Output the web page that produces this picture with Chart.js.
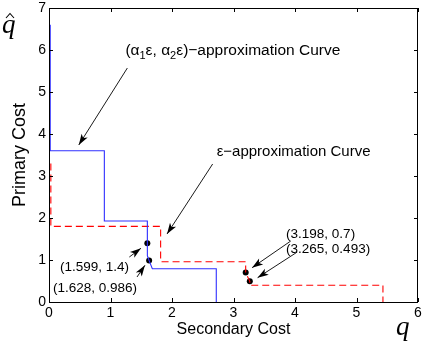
<!DOCTYPE html>
<html>
<head>
<meta charset="UTF-8">
<title>Primary vs Secondary Cost</title>
<script src="https://cdn.jsdelivr.net/npm/chart.js"></script>
<style>
body { margin: 0; background: #fff; }
#wrap { width: 422px; height: 343px; }
</style>
</head>
<body>
<div id="wrap"><canvas id="costChart"></canvas></div>
<script>
// (α1ε, α2ε)-approximation curve, blue solid
const alphaX = [0.02, 0.02, 0.9, 0.9, 1.599, 1.599, 1.6, 1.628, 1.68, 2.72, 2.72];
const alphaY = [6.6, 3.6, 3.6, 1.93, 1.93, 1.4, 1.1, 0.986, 0.79, 0.79, 0];
// ε-approximation curve, red dashed
const epsX = [0.03, 0.03, 1.815, 1.815, 3.198, 3.198, 3.265, 3.265, 5.43, 5.43];
const epsY = [3.3, 1.8, 1.8, 0.96, 0.96, 0.7, 0.493, 0.4, 0.4, 0];
// marked points and their labels
const markX = [1.599, 1.628, 3.198, 3.265];
const markY = [1.4, 0.986, 0.7, 0.493];
const markLabels = ['(1.599, 1.4)', '(1.628, 0.986)', '(3.198, 0.7)', '(3.265, 0.493)'];
const markLabelAt = [[0.177, 0.833], [0.065, 0.333], [3.855, 1.619], [3.855, 1.262]];
const markArrowFrom = [[1.306, 1.071], [1.431, 0.595], [3.931, 1.452], [4.037, 1.19]];
const markArrowTo = [[1.495, 1.279], [1.56, 0.874], [3.302, 0.817], [3.392, 0.579]];
// curve captions
const captionAt = [[1.242, 5.98], [2.726, 3.58]];
const captionArrowFrom = [[1.274, 5.571], [2.661, 3.286]];
const captionArrowTo = [[0.484, 3.738], [1.919, 1.619]];
const xTicks = [0, 1, 2, 3, 4, 5, 6];
const yTicks = [0, 1, 2, 3, 4, 5, 6, 7];

const pts = (xs, ys) => xs.map((x, i) => ({x: x, y: ys[i]}));
const SANS = '"Liberation Sans", Arial, sans-serif';

function arrow(ctx, x1, y1, x2, y2) {
  ctx.beginPath();
  ctx.moveTo(x1, y1);
  ctx.lineTo(x2, y2);
  ctx.stroke();
  const a = Math.atan2(y2 - y1, x2 - x1), L = 11, W = 3.6;
  ctx.beginPath();
  ctx.moveTo(x2, y2);
  ctx.lineTo(x2 - L * Math.cos(a) + W * Math.sin(a), y2 - L * Math.sin(a) - W * Math.cos(a));
  ctx.lineTo(x2 - L * 0.75 * Math.cos(a), y2 - L * 0.75 * Math.sin(a));
  ctx.lineTo(x2 - L * Math.cos(a) - W * Math.sin(a), y2 - L * Math.sin(a) + W * Math.cos(a));
  ctx.closePath();
  ctx.fill();
}

// draw text made of pieces, some of them subscripts
function richText(ctx, parts, x, y, size) {
  parts.forEach(p => {
    ctx.font = (p.sub ? Math.round(size * 0.72) : size) + 'px ' + SANS;
    ctx.fillText(p.t, x, p.sub ? y + 5 : y);
    x += ctx.measureText(p.t).width;
  });
}

const decorPlugin = {
  id: 'decor',
  afterDatasetsDraw(chart) {
    const ctx = chart.ctx, xs = chart.scales.x, ys = chart.scales.y;
    const a = chart.chartArea;
    const px = v => xs.getPixelForValue(v), py = v => ys.getPixelForValue(v);
    ctx.save();
    // box and inward ticks
    ctx.strokeStyle = '#000';
    ctx.lineWidth = 1;
    ctx.strokeRect(a.left + 0.5, a.top + 0.5, a.right - a.left - 1, a.bottom - a.top);
    ctx.beginPath();
    xTicks.forEach(v => {
      const x = Math.round(px(v)) + 0.5;
      ctx.moveTo(x, a.bottom); ctx.lineTo(x, a.bottom - 4);
      ctx.moveTo(x, a.top); ctx.lineTo(x, a.top + 4);
    });
    yTicks.forEach(v => {
      const y = Math.round(py(v)) + 0.5;
      ctx.moveTo(a.left, y); ctx.lineTo(a.left + 4, y);
      ctx.moveTo(a.right, y); ctx.lineTo(a.right - 4, y);
    });
    ctx.stroke();

    // arrows
    ctx.fillStyle = '#000';
    ctx.lineWidth = 0.9;
    captionArrowFrom.forEach((f, i) => {
      const t = captionArrowTo[i];
      arrow(ctx, px(f[0]), py(f[1]), px(t[0]), py(t[1]));
    });
    markArrowFrom.forEach((f, i) => {
      const t = markArrowTo[i];
      arrow(ctx, px(f[0]), py(f[1]), px(t[0]), py(t[1]));
    });

    // captions
    ctx.textBaseline = 'middle';
    ctx.textAlign = 'left';
    richText(ctx, [
      {t: '(α'}, {t: '1', sub: true}, {t: 'ε, α'}, {t: '2', sub: true},
      {t: 'ε)−approximation Curve'}
    ], px(captionAt[0][0]), py(captionAt[0][1]), 15.5);
    richText(ctx, [{t: 'ε−approximation Curve'}], px(captionAt[1][0]), py(captionAt[1][1]), 15);

    ctx.font = '13.5px ' + SANS;
    markLabels.forEach((s, i) => {
      ctx.fillText(s, px(markLabelAt[i][0]), py(markLabelAt[i][1]));
    });

    // q-hat symbols
    ctx.textBaseline = 'alphabetic';
    ctx.font = 'italic 27px "Liberation Serif", "DejaVu Serif", serif';
    ctx.fillText('q', 2, 33);
    ctx.fillText('q', 396, 335);
    ctx.lineWidth = 1.1;
    ctx.beginPath();
    ctx.moveTo(6, 18); ctx.lineTo(10, 13.5); ctx.lineTo(14, 18);
    ctx.stroke();
    ctx.restore();
  }
};

new Chart(document.getElementById('costChart'), {
  type: 'scatter',
  data: {
    datasets: [
      {
        data: pts(alphaX, alphaY), showLine: true, borderColor: '#3030ff',
        borderWidth: 1.1, pointRadius: 0, tension: 0
      },
      {
        data: pts(epsX, epsY), showLine: true, borderColor: '#ff0000',
        borderWidth: 1.1, borderDash: [7, 4], pointRadius: 0, tension: 0
      },
      {
        data: pts(markX, markY), showLine: false, pointRadius: 3,
        backgroundColor: '#000', borderColor: '#000', borderWidth: 0
      }
    ]
  },
  options: {
    responsive: true,
    maintainAspectRatio: false,
    animation: false,
    layout: { padding: { top: 8, right: 1, left: 0, bottom: 0 } },
    plugins: { legend: { display: false }, tooltip: { enabled: false } },
    scales: {
      x: {
        type: 'linear', min: 0, max: 6,
        afterBuildTicks: s => { s.ticks = xTicks.map(v => ({value: v})); },
        afterFit: s => { s.height = 41; s.paddingLeft = 0; s.paddingRight = 0; },
        grid: { display: false, drawTicks: false },
        border: { display: false },
        ticks: { color: '#000', padding: 3, font: { size: 14, family: SANS } },
        title: {
          display: true, text: 'Secondary Cost', color: '#000',
          font: { size: 16, family: SANS }, padding: { top: 0, bottom: 4 }
        }
      },
      y: {
        type: 'linear', min: 0, max: 7,
        afterBuildTicks: s => { s.ticks = yTicks.map(v => ({value: v})); },
        afterFit: s => { s.width = 49; s.paddingTop = 0; s.paddingBottom = 0; },
        grid: { display: false, drawTicks: false },
        border: { display: false },
        ticks: { color: '#000', padding: 3, font: { size: 14, family: SANS } },
        title: {
          display: true, text: 'Primary Cost', color: '#000',
          font: { size: 18, family: SANS }, padding: { top: 9, bottom: 0 }
        }
      }
    }
  },
  plugins: [decorPlugin]
});
</script>
</body>
</html>
